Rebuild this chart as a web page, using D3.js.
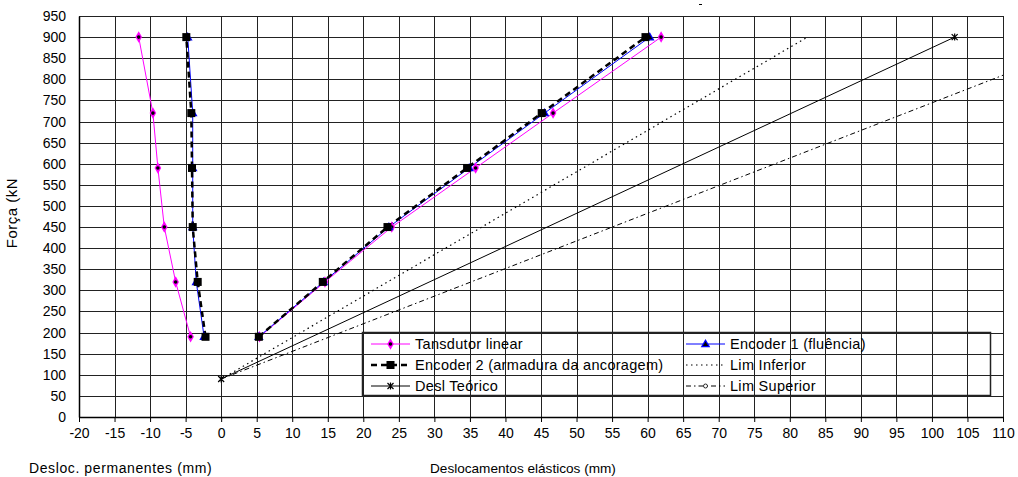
<!DOCTYPE html>
<html>
<head>
<meta charset="utf-8">
<script src="https://cdn.jsdelivr.net/npm/d3@7"></script>
<style>
  body { margin: 0; background: #fff; }
  text { font-family: "Liberation Sans", Arial, sans-serif; fill: #000; }
</style>
</head>
<body>
<div id="chart"></div>
<script>
// Forças aplicadas (kN)
var forces = [190, 320, 450, 590, 720, 900];

// Deslocamentos permanentes (mm)
var tansdutorPerm = [-4.3, -6.4, -8.0, -8.9, -9.6, -11.6];
var encoder1Perm  = [-2.4, -3.5, -4.0, -4.0, -4.0, -4.7];
var encoder2Perm  = [-2.2, -3.3, -4.0, -4.1, -4.2, -4.9];

// Deslocamentos elásticos (mm)
var tansdutorEl = [5.4, 14.6, 24.0, 35.8, 46.7, 61.9];
var encoder1El  = [5.3, 14.4, 23.6, 34.9, 45.5, 60.3];
var encoder2El  = [5.3, 14.3, 23.4, 34.6, 45.1, 59.7];

// Retas teóricas: [desloc, força]
var deslTeorico  = [[0, 90], [103.2, 900]];
var limInferior  = [[0, 90], [82.5, 900]];
var limSuperior  = [[0, 90], [123.8, 900]];

var xTicks = d3.range(-20, 111, 5);
var yTicks = d3.range(0, 951, 50);

var width = 1018, height = 477;
var pLeft = 79, pRight = 1003, pTop = 16, pBottom = 417;

var x = d3.scaleLinear().domain([-20, 110]).range([pLeft, pRight]);
var y = d3.scaleLinear().domain([0, 950]).range([pBottom, pTop]);

var svg = d3.select("#chart").append("svg")
    .attr("width", width)
    .attr("height", height);

svg.append("defs").append("clipPath")
    .attr("id", "plot-clip")
  .append("rect")
    .attr("x", pLeft).attr("y", pTop)
    .attr("width", pRight - pLeft).attr("height", pBottom - pTop);

// Grid
var grid = svg.append("g").attr("shape-rendering", "crispEdges");
grid.selectAll(".vg")
    .data(xTicks)
  .enter().append("line")
    .attr("x1", function(d) { return Math.round(x(d)) + 0.5; })
    .attr("x2", function(d) { return Math.round(x(d)) + 0.5; })
    .attr("y1", pTop)
    .attr("y2", pBottom)
    .attr("stroke", "#222");
grid.selectAll(".hg")
    .data(yTicks)
  .enter().append("line")
    .attr("x1", pLeft)
    .attr("x2", pRight)
    .attr("y1", function(d) { return Math.round(y(d)) + 0.5; })
    .attr("y2", function(d) { return Math.round(y(d)) + 0.5; })
    .attr("stroke", "#222");

// Axes (hyphen minus like the original)
var fmt = function(d) { return String(d); };
var xAxis = svg.append("g")
    .attr("transform", "translate(0," + pBottom + ")")
    .call(d3.axisBottom(x).tickValues(xTicks).tickFormat(fmt).tickSize(5).tickPadding(6).tickSizeOuter(0));
var yAxis = svg.append("g")
    .attr("transform", "translate(" + pLeft + ",0)")
    .call(d3.axisLeft(y).tickValues(yTicks).tickFormat(fmt).tickSize(0).tickPadding(13).tickSizeOuter(0));
[xAxis, yAxis].forEach(function(a) {
    a.select(".domain").attr("stroke", "#000").attr("stroke-width", 1.5);
    a.selectAll(".tick line").attr("stroke", "#000");
    a.selectAll("text")
        .style("font-family", '"Liberation Sans", Arial, sans-serif')
        .style("font-size", "14px")
        .attr("fill", "#000");
});

// Series
var plot = svg.append("g").attr("clip-path", "url(#plot-clip)");
var line = d3.line()
    .x(function(d) { return x(d[0]); })
    .y(function(d) { return y(d[1]); });

function pairs(vals) {
    return vals.map(function(v, i) { return [v, forces[i]]; });
}

var series = [
    { name: "Tansdutor linear", color: "#ff00ff", width: 1, dash: null, marker: "diamond", parts: [pairs(tansdutorPerm), pairs(tansdutorEl)] },
    { name: "Encoder 1 (fluência)", color: "#0000ff", width: 1, dash: null, marker: "triangle", parts: [pairs(encoder1Perm), pairs(encoder1El)] },
    { name: "Encoder 2 (armadura da ancoragem)", color: "#000", width: 2.5, dash: "6,4", marker: "square", parts: [pairs(encoder2Perm), pairs(encoder2El)] },
    { name: "Lim Inferior", color: "#000", width: 1.2, dash: "1.5,3.5", marker: null, parts: [limInferior] },
    { name: "Desl Teórico", color: "#000", width: 1, dash: null, marker: "star", parts: [deslTeorico] },
    { name: "Lim Superior", color: "#000", width: 1, dash: "5,3,1.5,3", marker: "circle", parts: [limSuperior] }
];

function drawMarker(g, type, cx, cy, color) {
    if (type === "diamond") {
        g.append("path").attr("d", d3.symbol(d3.symbolDiamond, 38)())
            .attr("transform", "translate(" + cx + "," + cy + ")")
            .attr("fill", color);
        g.append("circle").attr("cx", cx).attr("cy", cy).attr("r", 1.8).attr("fill", "#000");
    } else if (type === "triangle") {
        g.append("path").attr("d", d3.symbol(d3.symbolTriangle, 40)())
            .attr("transform", "translate(" + cx + "," + (cy + 0.5) + ")")
            .attr("fill", "#0000ff");
        g.append("path").attr("d", d3.symbol(d3.symbolTriangle, 12)())
            .attr("transform", "translate(" + cx + "," + (cy + 0.5) + ")")
            .attr("fill", "#000");
    } else if (type === "square") {
        g.append("rect").attr("x", cx - 4).attr("y", cy - 4)
            .attr("width", 8).attr("height", 8).attr("fill", "#000");
    } else if (type === "star") {
        g.append("path").attr("d", "M-3,-3L3,3M-3,3L3,-3M0,-3.5L0,3.5")
            .attr("transform", "translate(" + cx + "," + cy + ")")
            .attr("stroke", "#000").attr("stroke-width", 1.2).attr("fill", "none");
    } else if (type === "circle") {
        g.append("circle").attr("cx", cx).attr("cy", cy).attr("r", 2)
            .attr("fill", "#fff").attr("stroke", "#000").attr("stroke-width", 0.8);
    }
}

series.forEach(function(s) {
    s.parts.forEach(function(p) {
        plot.append("path")
            .datum(p)
            .attr("d", line)
            .attr("fill", "none")
            .attr("stroke", s.color)
            .attr("stroke-width", s.width)
            .attr("stroke-dasharray", s.dash);
    });
});
// markers (circle of Lim Superior is hidden under the star at the origin)
series.forEach(function(s) {
    if (!s.marker || s.marker === "circle") return;
    s.parts.forEach(function(p) {
        p.forEach(function(d) {
            if (x(d[0]) > pRight) return;
            drawMarker(plot, s.marker, x(d[0]), y(d[1]), s.color);
        });
    });
});

// Legend
var legend = svg.append("g");
legend.append("rect")
    .attr("x", 362.5).attr("y", 332.5)
    .attr("width", 628).attr("height", 63)
    .attr("fill", "none")
    .attr("stroke", "#222")
    .attr("stroke-width", 1.5);

var legendPos = [[371, 344], [686, 344], [371, 365], [686, 365], [371, 386], [686, 386]];
series.forEach(function(s, i) {
    var lx = legendPos[i][0], ly = legendPos[i][1];
    legend.append("line")
        .attr("x1", lx).attr("x2", lx + 39)
        .attr("y1", ly).attr("y2", ly)
        .attr("stroke", s.color)
        .attr("stroke-width", s.width)
        .attr("stroke-dasharray", s.dash);
    if (s.marker) drawMarker(legend, s.marker, lx + 19.5, ly, s.color);
    legend.append("text")
        .attr("x", lx + 44)
        .attr("y", ly)
        .attr("dy", "0.35em")
        .style("font-size", "14.5px")
        .style("letter-spacing", "0.3px")
        .text(s.name);
});

// Titles
svg.append("text")
    .attr("transform", "translate(17," + 213 + ") rotate(-90)")
    .style("text-anchor", "middle")
    .style("font-size", "15px")
    .style("letter-spacing", "0.5px")
    .text("Força (kN");

svg.append("text")
    .attr("x", 29).attr("y", 473)
    .style("font-size", "14px")
    .style("letter-spacing", "0.6px")
    .text("Desloc. permanentes (mm)");

svg.append("text")
    .attr("x", 430).attr("y", 473)
    .style("font-size", "13.6px")
    .text("Deslocamentos elásticos (mm)");

svg.append("line")
    .attr("x1", 699).attr("x2", 702)
    .attr("y1", 4.5).attr("y2", 4.5)
    .attr("stroke", "#000");
</script>
</body>
</html>
